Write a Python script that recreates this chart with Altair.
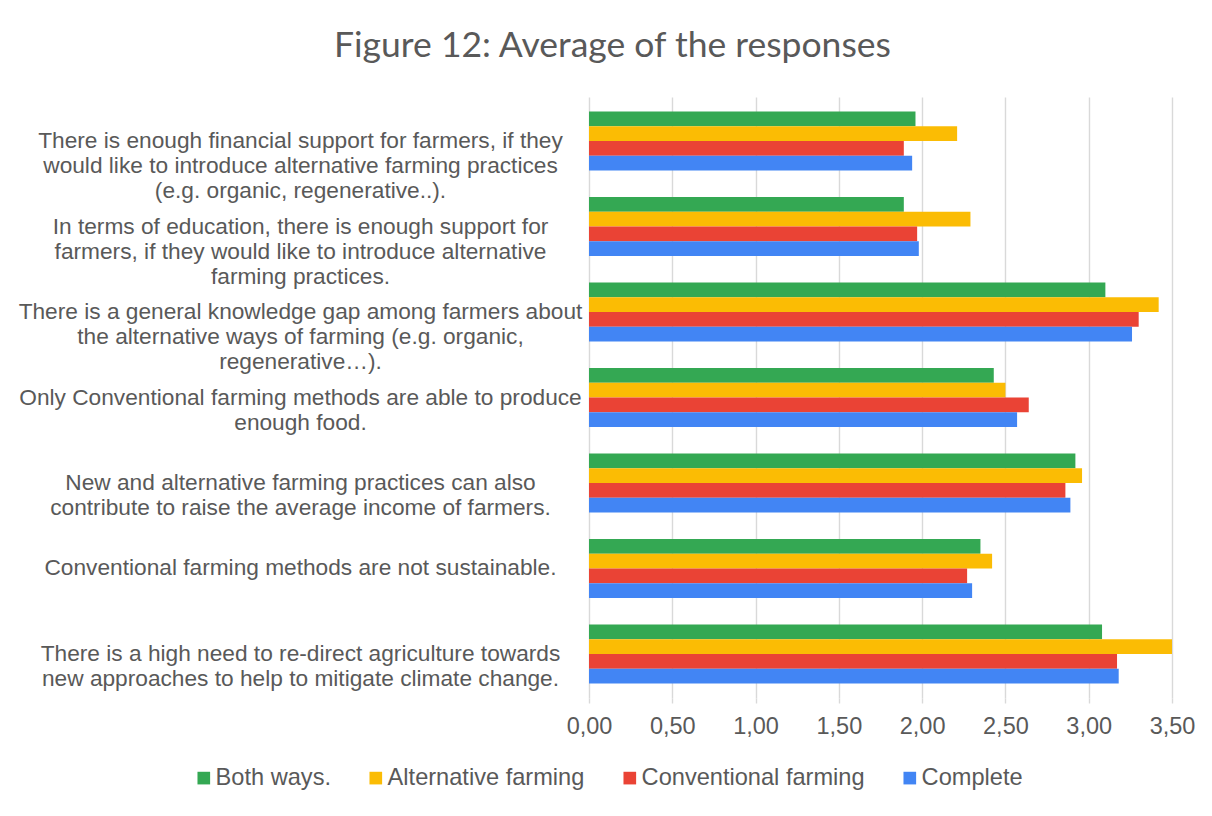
import altair as alt
import pandas as pd

categories = [
    "There is enough financial support for farmers, if they\nwould like to introduce alternative farming practices\n(e.g. organic, regenerative..).",
    "In terms of education, there is enough support for\nfarmers, if they would like to introduce alternative\nfarming practices.",
    "There is a general knowledge gap among farmers about\nthe alternative ways of farming (e.g. organic,\nregenerative…).",
    "Only Conventional farming methods are able to produce\nenough food.",
    "New and alternative farming practices can also\ncontribute to raise the average income of farmers.",
    "Conventional farming methods are not sustainable.",
    "There is a high need to re-direct agriculture towards\nnew approaches to help to mitigate climate change.",
]
series = ["Both ways.", "Alternative farming", "Conventional farming", "Complete"]
both_ways = [1.96, 1.89, 3.10, 2.43, 2.92, 2.35, 3.08]
alternative = [2.21, 2.29, 3.42, 2.50, 2.96, 2.42, 3.50]
conventional = [1.89, 1.97, 3.30, 2.64, 2.86, 2.27, 3.17]
complete = [1.94, 1.98, 3.26, 2.57, 2.89, 2.30, 3.18]
colors = ["#34A853", "#FBBC04", "#EA4335", "#4285F4"]
x_ticks = [0, 0.5, 1.0, 1.5, 2.0, 2.5, 3.0, 3.5]

rows = []
for s, vals in zip(series, [both_ways, alternative, conventional, complete]):
    for c, v in zip(categories, vals):
        rows.append({"statement": c, "series": s, "value": v})
df = pd.DataFrame(rows)

FONT = "Liberation Sans"
GREY = "#595959"

chart = alt.Chart(df).mark_bar().encode(
    x=alt.X(
        "value:Q",
        scale=alt.Scale(domain=[0, 3.5], nice=False),
        axis=alt.Axis(
            values=x_ticks,
            labelExpr="replace(format(datum.value, '.2f'), '.', ',')",
            title=None,
            grid=True,
            gridColor="#D9D9D9",
            gridWidth=1.4,
            domain=False,
            ticks=True,
            tickColor="#D9D9D9",
            tickWidth=1.4,
            tickSize=5,
            labelFontSize=23.5,
            labelFont=FONT,
            labelColor=GREY,
            labelPadding=11,
            labelFlush=False,
            labelOverlap=False,
        ),
    ),
    y=alt.Y(
        "statement:N",
        sort=categories,
        scale=alt.Scale(paddingInner=0.31, paddingOuter=0.17),
        axis=alt.Axis(
            title=None,
            labelExpr="split(datum.label, '\\n')",
            labelAlign="center",
            labelBaseline="middle",
            labelPadding=289,
            ticks=False,
            domain=False,
            labelLimit=800,
            labelLineHeight=25,
            labelFontSize=22.7,
            labelFont=FONT,
            labelColor=GREY,
        ),
    ),
    yOffset=alt.YOffset("series:N", sort=series),
    color=alt.Color(
        "series:N",
        sort=series,
        scale=alt.Scale(domain=series, range=colors),
        legend=alt.Legend(
            title=None,
            orient="none",
            legendX=-397,
            legendY=669,
            direction="horizontal",
            columns=4,
            symbolType="square",
            symbolSize=160,
            symbolStrokeWidth=0,
            labelFontSize=23.6,
            labelFont=FONT,
            labelColor=GREY,
            labelOffset=0,
            labelLimit=500,
            columnPadding=33,
        ),
    ),
).properties(
    width=583,
    height=601,
    title=alt.TitleParams(
        "Figure 12: Average of the responses",
        font="Lato",
        fontSize=35.5,
        fontWeight="normal",
        color=GREY,
        anchor="middle",
        dx=-268,
        baseline="alphabetic",
        offset=5,
    ),
    autosize=alt.AutoSizeParams(type="none"),
    padding={"left": 581, "top": 89, "right": 32, "bottom": 105},
).configure_view(stroke=None)

chart.save("out.html", embed_options={"renderer": "svg", "actions": False})
